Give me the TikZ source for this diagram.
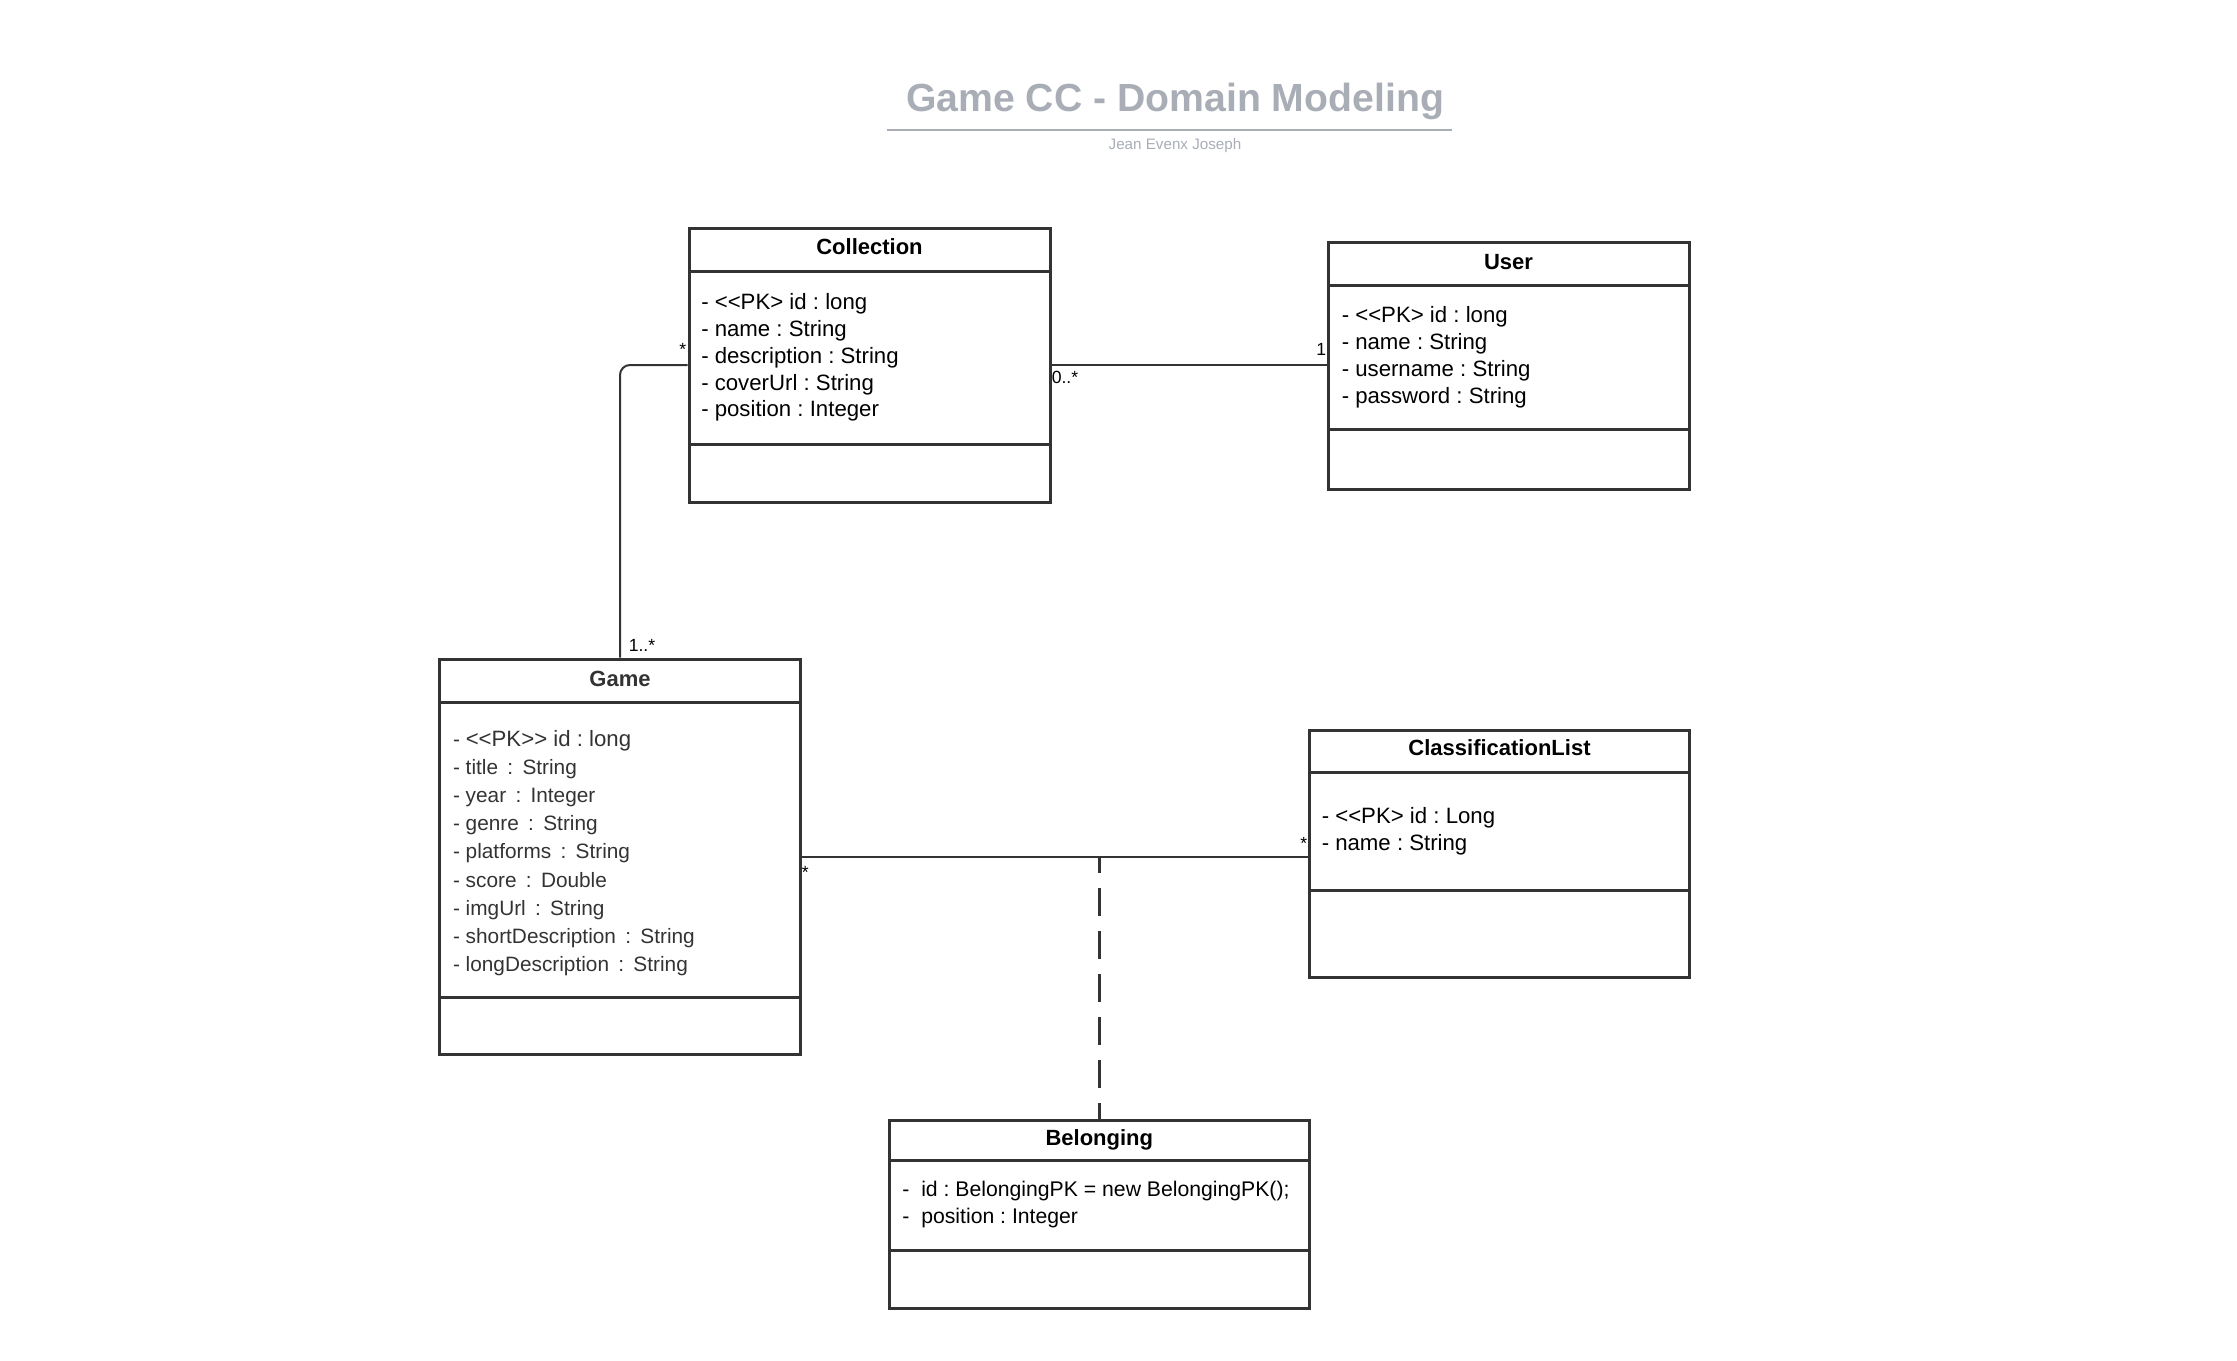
\documentclass[tikz,border=0pt]{standalone}
\usepackage{fontspec}
\setmainfont{Liberation Sans}[Ligatures=TeXOff]
\usetikzlibrary{fit}
\frenchspacing

\definecolor{titlegray}{RGB}{169,173,182}
\definecolor{boxline}{RGB}{51,51,51}

% wider colon used in the Game attributes
\newcommand{\gcolon}{\hspace{0.17em}:\hspace{0.17em}}

\tikzset{every picture/.style={line width=0.75pt}}
\tikzset{
  classbox/.style={draw=boxline, line width=1.5pt, inner sep=0pt},
  boxsep/.style={draw=boxline, line width=1.5pt},
  classname/.style={anchor=base, inner sep=0pt, font=\fontsize{11}{13}\selectfont\bfseries},
  attrs/.style={anchor=north west, inner sep=0pt, align=left, font=\fontsize{11.1}{13.45}\selectfont},
  mult/.style={inner sep=0pt, font=\fontsize{8.8}{10}\selectfont},
  assoc/.style={draw=boxline, line width=1pt},
  assocclass/.style={draw=boxline, line width=1.5pt, dash pattern=on 13.9pt off 7.6pt, dash phase=6pt}
}

\begin{document}
\begin{tikzpicture}[x=0.5pt,y=0.5pt,yscale=-1,xscale=1]
\path[use as bounding box] (0,0) rectangle (2237,1360);

% Title
\draw (1175,111) node [anchor=base, inner sep=0pt, text=titlegray, font=\fontsize{19.6}{23}\selectfont\bfseries] (diagtitle) {Game CC - Domain Modeling};
\draw [titlegray, line width=1pt] (887,130) -- (1452,130) ;
\draw (1175,149.5) node [anchor=base, inner sep=0pt, text=titlegray, font=\fontsize{7.6}{9}\selectfont] (diagauthor) {Jean Evenx Joseph};

%Class: Collection
\node [classbox, fit={(689,228) (1050,502)}] (collection) {};
\draw [boxsep] (689,271) -- (1050,271) ;
\draw [boxsep] (689,444) -- (1050,444) ;
\draw (869.5,254.7) node [classname] (collectionname) {Collection};
\draw (700.5,292.5) node [attrs] (collectionattrs) {- <<PK> id : long\\- name : String\\- description : String\\- coverUrl : String\\- position : Integer};

%Class: User
\node [classbox, fit={(1328,242.5) (1689,489.5)}] (user) {};
\draw [boxsep] (1328,285.5) -- (1689,285.5) ;
\draw [boxsep] (1328,429.5) -- (1689,429.5) ;
\draw (1508.5,269) node [classname] (username) {User};
\draw (1341,305.6) node [attrs] (userattrs) {- <<PK> id : long\\- name : String\\- username : String\\- password : String};

%Class: Game
\node [classbox, fit={(439.5,659) (800.5,1054.5)}] (game) {};
\draw [boxsep] (439.5,702) -- (800.5,702) ;
\draw [boxsep] (439.5,997.5) -- (800.5,997.5) ;
\draw (620,686) node [classname, text=boxline] (gamename) {Game};
\draw (452.3,729.2) node [attrs, text=boxline, font=\fontsize{10.4}{14.1}\selectfont] (gameattrs) {- {\fontsize{11.1}{14.1}\selectfont <<PK>> id : long}\\- title \gcolon{} String\\- year \gcolon{} Integer\\- genre \gcolon{} String\\- platforms \gcolon{} String\\- score \gcolon{} Double\\- imgUrl \gcolon{} String\\- shortDescription \gcolon{} String\\- longDescription \gcolon{} String};

%Class: ClassificationList
\node [classbox, fit={(1309.5,730.5) (1689,977.5)}] (classlist) {};
\draw [boxsep] (1309.5,772) -- (1689,772) ;
\draw [boxsep] (1309.5,890.5) -- (1689,890.5) ;
\draw (1499.5,755.5) node [classname] (classlistname) {ClassificationList};
\draw (1321,806.3) node [attrs] (classlistattrs) {- <<PK> id : Long\\- name : String};

%Class: Belonging
\node [classbox, fit={(889,1120) (1309.5,1308.5)}] (belonging) {};
\draw [boxsep] (889,1160) -- (1309.5,1160) ;
\draw [boxsep] (889,1250) -- (1309.5,1250) ;
\draw (1099.3,1145) node [classname] (belongingname) {Belonging};
\draw (901.7,1180.5) node [attrs, font=\fontsize{10.6}{13.45}\selectfont] (belongingattrs) {-\ \ id : BelongingPK = new BelongingPK();\\-\ \ position : Integer};

%Associations
\draw [assoc, rounded corners=5pt] (collection.west) -| (game.north) ;
\draw [assoc] (collection.east) -- (collection.east -| user.west) ;
\draw [assoc] (game.east) -- (game.east -| classlist.west) ;
\draw [assocclass] (belonging.north |- game.east) -- (belonging.north) ;

% Multiplicities
\draw (687,355) node [mult, anchor=base east] (colgamemult) {*};
\draw (628,651) node [mult, anchor=base west] (gamecolmult) {1..*};
\draw (1051,383) node [mult, anchor=base west] (colusermult) {0..*};
\draw (1327,355) node [mult, anchor=base east] (usercolmult) {1};
\draw (801,878) node [mult, anchor=base west] (gameclassmult) {*};
\draw (1308,849) node [mult, anchor=base east] (classgamemult) {*};

\end{tikzpicture}
\end{document}
